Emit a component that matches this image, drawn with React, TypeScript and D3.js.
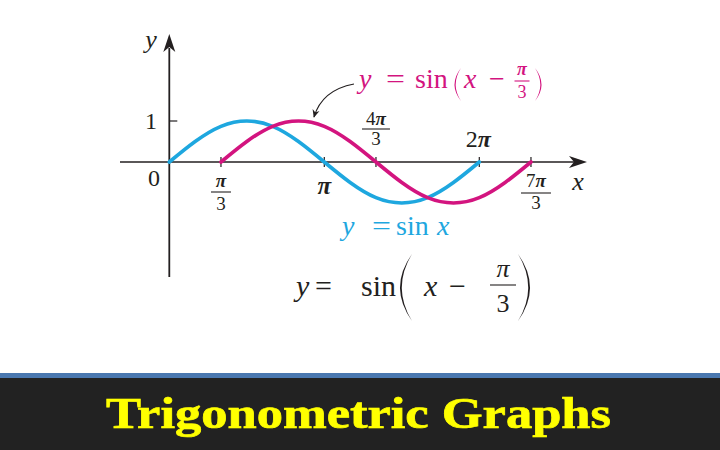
import React from 'react';
import * as d3 from 'd3';

// sample angles, in units of pi/6, and the values
const steps = [0, 1, 2, 3, 4, 5, 6, 7, 8, 9, 10, 11, 12];
const sinValues = [0, 0.5, 0.87, 1, 0.87, 0.5, 0, -0.5, -0.87, -1, -0.87, -0.5, 0];
const shiftSteps = 2; // pi/3 = 2 * pi/6

// x ticks (in units of pi/3)
const tickThirds = [1, 3, 4, 6, 7];
const yTicks = [1];

const BLUE = '#1ea7df';
const PINK = '#d3147f';
const INK = '#231f20';
const SERIF = "'Liberation Serif', 'Times New Roman', serif";

const W = 720;
const H = 450;

interface FracProps {
  x: number; y: number; top: string; bottom: string;
  size: number; fill: string; w: number; up: number; down: number; bold?: boolean;
}

const Frac: React.FC<FracProps> = ({ x, y, top, bottom, size, fill, w, up, down, bold = true }) => {
  const pi = <tspan fontStyle="italic" fontWeight={bold ? 'bold' : 'normal'}>π</tspan>;
  return (
    <g fill={fill} fontFamily={SERIF} fontSize={size}>
      <text x={x} y={y - up} textAnchor="middle">
        {top.length > 1 ? <>{top[0]}{pi}</> : pi}
      </text>
      <line x1={x - w / 2} x2={x + w / 2} y1={y} y2={y} stroke={fill} strokeWidth={1.1} />
      <text x={x} y={y + down} textAnchor="middle">{bottom}</text>
    </g>
  );
};

// parenthesis drawn as a crescent, from top to bottom
const paren = (x: number, top: number, bottom: number, left: boolean, bulge: number, thick: number) => {
  const s = left ? -1 : 1;
  const mid = (top + bottom) / 2;
  return `M${x},${top} Q${x + s * bulge},${mid} ${x},${bottom} Q${x + s * (bulge - thick)},${mid} ${x},${top} Z`;
};

const App: React.FC = () => {
  const x = d3.scaleLinear().domain([0, 2 * Math.PI]).range([169.3, 479.3]);
  const y = d3.scaleLinear().domain([-1, 1]).range([203, 121]);

  const line = d3.line<number>()
    .x((_, i) => x((steps[i] * Math.PI) / 6))
    .y(d => y(d))
    .curve(d3.curveNatural);

  const shifted = d3.line<number>()
    .x((_, i) => x(((steps[i] + shiftSteps) * Math.PI) / 6))
    .y(d => y(d))
    .curve(d3.curveNatural);

  const x0 = x(0);
  const y0 = y(0);
  const tx = (k: number) => x((k * Math.PI) / 3);

  return (
    <svg width={W} height={H} style={{ position: 'fixed', left: 0, top: 0 }} fontFamily={SERIF}>
      <defs>
        <marker id="ah" viewBox="0 0 10 10" refX="9" refY="5" markerWidth="8" markerHeight="8" orient="auto" markerUnits="userSpaceOnUse">
          <path d="M0,0.5 L10,5 L0,9.5 L3,5 Z" fill={INK} />
        </marker>
      </defs>
      <rect width={W} height={H} fill="#fff" />

      {/* axes */}
      <line x1={120} x2={574} y1={y0} y2={y0} stroke={INK} strokeWidth={1.5} />
      <path d={`M587,${y0} L569,${y0 - 6} L574,${y0} L569,${y0 + 6} Z`} fill={INK} />
      <line x1={x0} x2={x0} y1={277} y2={48} stroke={INK} strokeWidth={1.8} />
      <path d={`M${x0},34 L${x0 - 6},52 L${x0},47 L${x0 + 6},52 Z`} fill={INK} />

      {yTicks.map(t => (
        <g key={t}>
          <line x1={x0} x2={x0 + 8} y1={y(t)} y2={y(t)} stroke={INK} strokeWidth={1.2} />
          <text x={151} y={y(t) + 8} textAnchor="middle" fontSize={24} fill={INK}>{t}</text>
        </g>
      ))}
      {tickThirds.map(k => (
        <line key={k} x1={tx(k)} x2={tx(k)} y1={y0 - 5} y2={y0 + 5} stroke={INK} strokeWidth={1.2} />
      ))}

      {/* curves */}
      <path d={line(sinValues) || ''} fill="none" stroke={BLUE} strokeWidth={3.6} strokeLinecap="round" />
      <path d={shifted(sinValues) || ''} fill="none" stroke={PINK} strokeWidth={3.6} strokeLinecap="round" />

      {/* axis labels */}
      <text x={151} y={48} fontSize={26} fontStyle="italic" textAnchor="middle" fill={INK}>y</text>
      <text x={578} y={190} fontSize={26} fontStyle="italic" textAnchor="middle" fill={INK}>x</text>
      <text x={154} y={186} fontSize={24} textAnchor="middle" fill={INK}>0</text>

      <Frac x={tx(1)} y={192} top="π" bottom="3" size={19} fill={INK} w={20} up={5} down={18} />
      <text x={tx(3)} y={194} fontSize={25} fontStyle="italic" fontWeight="bold" textAnchor="middle" fill={INK}>π</text>
      <Frac x={tx(4)} y={129} top="4π" bottom="3" size={19} fill={INK} w={28} up={4} down={16} />
      <text x={tx(6) - 1} y={147} fontSize={24} textAnchor="middle" fill={INK}>2<tspan fontStyle="italic" fontWeight="bold">π</tspan></text>
      <Frac x={tx(7) + 5} y={193} top="7π" bottom="3" size={19} fill={INK} w={30} up={6} down={16} />

      {/* pink label with arrow */}
      <path d="M354,84 Q322,90 314,117" fill="none" stroke={INK} strokeWidth={1.2} markerEnd="url(#ah)" />
      <g fill={PINK} fontSize={28}>
        <text x={359} y={88} fontStyle="italic">y</text>
        <text x={386} y={88} transform="translate(386,0) scale(1.2,1) translate(-386,0)">=</text>
        <text x={415} y={88}>sin</text>
        <text x={464} y={88} fontStyle="italic">x</text>
        <text x={489} y={88}>−</text>
      </g>
      <path d={paren(461, 68, 101, true, 13, 2.4)} fill={PINK} />
      <Frac x={522} y={81} top="π" bottom="3" size={18} fill={PINK} w={15} up={6} down={17} />
      <path d={paren(535, 68, 101, false, 13, 2.4)} fill={PINK} />

      {/* blue label */}
      <g fill={BLUE} fontSize={28}>
        <text x={342} y={235} fontStyle="italic">y</text>
        <text x={372} y={235} transform="translate(372,0) scale(1.2,1) translate(-372,0)">=</text>
        <text x={396} y={235}>sin</text>
        <text x={437} y={235} fontStyle="italic">x</text>
      </g>

      {/* black formula */}
      <g fill={INK} fontSize={30}>
        <text x={296} y={296} fontStyle="italic">y</text>
        <text x={315} y={296}>=</text>
        <text x={361} y={296}>sin</text>
        <text x={424} y={296} fontStyle="italic">x</text>
        <text x={449} y={296}>−</text>
      </g>
      <path d={paren(412, 254, 321, true, 24, 3.6)} fill={INK} />
      <Frac x={503} y={285} top="π" bottom="3" size={26} fill={INK} w={26} up={8} down={27} bold={false} />
      <path d={paren(518, 254, 321, false, 24, 3.6)} fill={INK} />

      {/* footer band */}
      <rect x={0} y={373} width={W} height={5} fill="#4a78b0" />
      <rect x={0} y={378} width={W} height={72} fill="#222222" />
      <text transform="translate(106,428) scale(1.18,1)" x={0} y={0} fontSize={44.5} fontWeight="bold"
        fill="#ffff00" stroke="#ffff00" strokeWidth={0.7}>Trigonometric Graphs</text>
    </svg>
  );
};

export default App;
